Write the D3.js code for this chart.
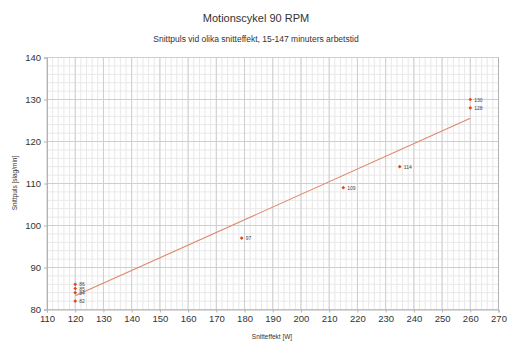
<!DOCTYPE html>
<html>
<head>
<meta charset="utf-8">
<script src="https://cdn.jsdelivr.net/npm/d3@7"></script>
<style>
  body { margin: 0; background: #fff; }
  text { font-family: "Liberation Sans", Arial, sans-serif; }
</style>
</head>
<body>
<svg id="chart"></svg>
<script>
const width = 512;
const height = 351;

// data
const effekt = [120, 120, 120, 120, 179, 215, 235, 260, 260];
const puls = [86, 85, 84, 82, 97, 109, 114, 130, 128];
const xTicks = [110, 120, 130, 140, 150, 160, 170, 180, 190, 200, 210, 220, 230, 240, 250, 260, 270];
const yTicks = [80, 90, 100, 110, 120, 130, 140];

const svg = d3.select('#chart')
  .attr('width', width)
  .attr('height', height);

svg.append('rect')
  .attr('width', width)
  .attr('height', height)
  .attr('fill', '#fff');

const xScale = d3.scaleLinear().domain([110, 270]).range([47, 498.5]);
const yScale = d3.scaleLinear().domain([80, 140]).range([309.5, 57.5]);

// grid, minor then major
const grid = svg.append('g');
const xMinor = d3.range(110, 270.1, 2);
const yMinor = d3.range(80, 140.1, 2);
grid.selectAll('.xm').data(xMinor).enter().append('line')
  .attr('x1', d => xScale(d)).attr('x2', d => xScale(d))
  .attr('y1', yScale(80)).attr('y2', yScale(140))
  .attr('stroke', '#e8e8e8').attr('stroke-width', 1);
grid.selectAll('.ym').data(yMinor).enter().append('line')
  .attr('x1', xScale(110)).attr('x2', xScale(270))
  .attr('y1', d => yScale(d)).attr('y2', d => yScale(d))
  .attr('stroke', '#e8e8e8').attr('stroke-width', 1);
grid.selectAll('.xM').data(xTicks).enter().append('line')
  .attr('x1', d => xScale(d)).attr('x2', d => xScale(d))
  .attr('y1', yScale(80)).attr('y2', yScale(140))
  .attr('stroke', '#cfcfcf').attr('stroke-width', 1);
grid.selectAll('.yM').data(yTicks).enter().append('line')
  .attr('x1', xScale(110)).attr('x2', xScale(270))
  .attr('y1', d => yScale(d)).attr('y2', d => yScale(d))
  .attr('stroke', '#cfcfcf').attr('stroke-width', 1);

// axes
const xAxis = d3.axisBottom(xScale).tickValues(xTicks).tickSize(3).tickPadding(3);
const yAxis = d3.axisLeft(yScale).tickValues(yTicks).tickSize(3).tickPadding(3);

const gx = svg.append('g')
  .attr('transform', `translate(0, ${yScale(80)})`)
  .call(xAxis);
const gy = svg.append('g')
  .attr('transform', `translate(${xScale(110)}, 0)`)
  .call(yAxis);
[gx, gy].forEach(g => {
  g.select('.domain').attr('stroke', '#b3b3b3');
  g.selectAll('.tick line').attr('stroke', '#b3b3b3');
  g.selectAll('.tick text').attr('fill', '#333').style('font-size', '9.5px')
    .style('font-family', '"Liberation Sans", Arial, sans-serif');
});

// right border of plot
svg.append('line')
  .attr('x1', xScale(270)).attr('x2', xScale(270))
  .attr('y1', yScale(80)).attr('y2', yScale(140))
  .attr('stroke', '#b3b3b3');

// linear trendline
const n = effekt.length;
const mx = d3.mean(effekt);
const my = d3.mean(puls);
let sxy = 0, sxx = 0;
for (let i = 0; i < n; i++) {
  sxy += (effekt[i] - mx) * (puls[i] - my);
  sxx += (effekt[i] - mx) * (effekt[i] - mx);
}
const slope = sxy / sxx;
const icpt = my - slope * mx;
const x0 = d3.min(effekt), x1 = d3.max(effekt);
svg.append('line')
  .attr('x1', xScale(x0)).attr('y1', yScale(icpt + slope * x0))
  .attr('x2', xScale(x1)).attr('y2', yScale(icpt + slope * x1))
  .attr('stroke', '#e0866a').attr('stroke-width', 1.1);

// points
const pts = effekt.map((x, i) => ({ x: x, y: puls[i] }));
svg.selectAll('.pt').data(pts).enter().append('path')
  .attr('d', d3.symbol().type(d3.symbolSquare).size(7))
  .attr('transform', d => `translate(${xScale(d.x)}, ${yScale(d.y)}) rotate(45)`)
  .attr('fill', '#e0461a');

// value labels
svg.selectAll('.lbl').data(pts).enter().append('text')
  .attr('x', d => xScale(d.x) + 4)
  .attr('y', d => yScale(d.y) + 2)
  .attr('fill', '#444')
  .style('font-size', '5px')
  .text(d => d.y);

// titles
svg.append('text')
  .attr('x', 256).attr('y', 22)
  .attr('text-anchor', 'middle')
  .attr('fill', '#333')
  .style('font-size', '11px')
  .text('Motionscykel 90 RPM');
svg.append('text')
  .attr('x', 256).attr('y', 42)
  .attr('text-anchor', 'middle')
  .attr('fill', '#333')
  .style('font-size', '8.5px')
  .text('Snittpuls vid olika snitteffekt, 15-147 minuters arbetstid');

// axis titles
svg.append('text')
  .attr('x', 272).attr('y', 339)
  .attr('text-anchor', 'middle')
  .attr('fill', '#333')
  .style('font-size', '6.5px')
  .text('Snitteffekt [W]');
svg.append('text')
  .attr('transform', 'translate(17, 183) rotate(-90)')
  .attr('text-anchor', 'middle')
  .attr('fill', '#333')
  .style('font-size', '6.5px')
  .text('Snittpuls [slag/min]');
</script>
</body>
</html>
